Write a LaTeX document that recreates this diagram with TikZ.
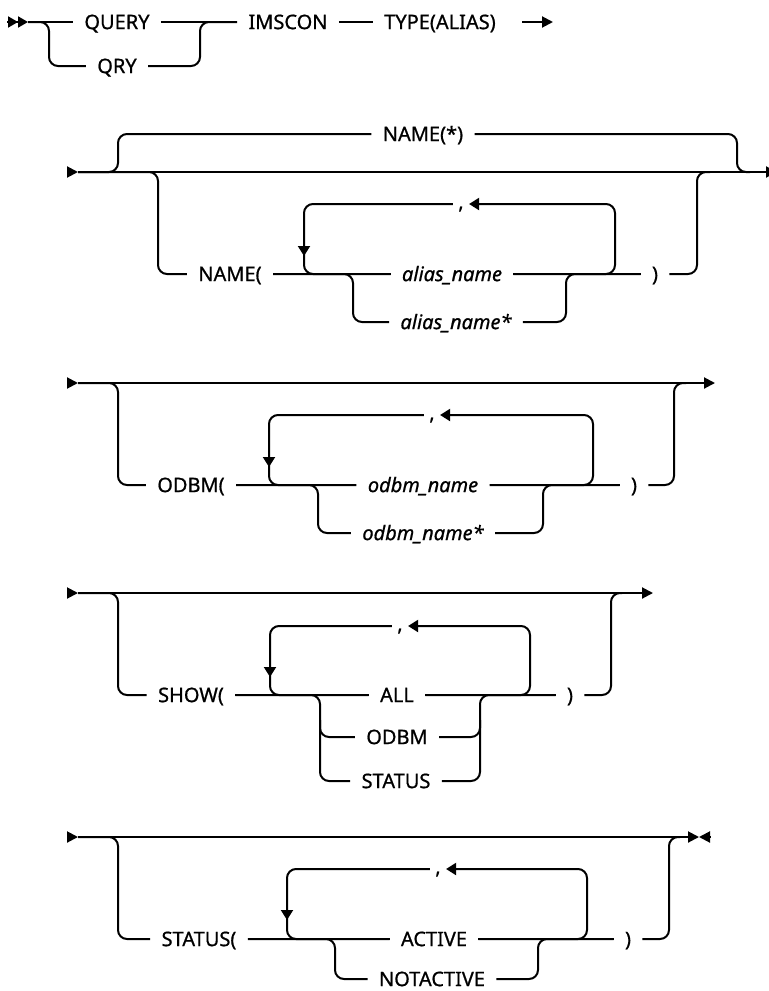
\documentclass[tikz,border=0pt]{standalone}
\usepackage{fontspec}
\setmainfont{Noto Sans}[FakeBold=0.8]
\usetikzlibrary{arrows.meta}
\tikzset{
  rail/.style={line width=1pt, rounded corners=4.5pt},
  kw/.style={inner xsep=5.5pt, inner ysep=0pt, text height=7.1pt, text depth=0pt,
             font=\fontsize{10}{12}\selectfont},
  var/.style={kw, font=\fontsize{10}{12}\selectfont\itshape},
  sepr/.style={kw, inner xsep=2.5pt, anchor=base},
  tri/.style={-{Triangle[length=5.5pt,width=5.5pt]}},
  loopin/.style={-{Triangle[length=5pt,width=6pt]}},
}

\begin{document}
\begin{tikzpicture}[x=0.5pt, y=-0.5pt]
  \useasboundingbox (0,0) rectangle (769,991);

  % QUERY | QRY  IMSCON  TYPE(ALIAS)
  \coordinate (s1) at (7,22);
  \draw[rail, -{Triangle[length=5pt,width=5.5pt]Triangle[length=5pt,width=5.5pt]}] (s1) -- ++(21,0) coordinate (a1);
  \node[kw] (query) at (117,22) {QUERY};
  \node[kw] (qry) at (117,66) {QRY};
  \node[kw] (imscon) at (288,22) {IMSCON};
  \node[kw] (type) at (440,22) {TYPE(ALIAS)};
  \draw[rail] (a1) -- (query.west);
  \draw[rail] (a1) -- (49,22) |- (qry.west);
  \draw[rail] (query.east) -- (imscon.west);
  \draw[rail] (qry.east) -| (200,22) -- (imscon.west);
  \draw[rail] (imscon.east) -- (type.west);
  \coordinate (c1) at (522,22);
  \draw[rail, tri] (c1) -- (553,22);

  % NAME
  \coordinate (s2) at (67,172);
  \draw[rail, tri] (s2) -- ++(11,0) coordinate (b2);
  \draw[rail, tri] (b2) -- (777,172);
  \node[kw] (namestar) at (423,134) {NAME(*)};
  \node[kw] (nameopen) at (230,274) {NAME(};
  \node[var] (alias) at (452,274) {alias\_name};
  \node[var] (aliasstar) at (456,322) {alias\_name*};
  \node[sepr] (comma2) at (461,209) {,};
  \node[kw] (close2) at (655,274) {)};
  \draw[rail] (b2) -- (118,172) |- (namestar.west);
  \draw[rail] (namestar.east) -| (737,172) -- (750,172);
  \draw[rail] (b2) -- (158,172) |- (nameopen.west);
  \draw[rail] (nameopen.east) -- (alias.west);
  \draw[rail, loopin] (alias.east) -- (615,274) -- (615,204) -- (comma2.east |- 0,204);
  \draw[rail, loopin] (comma2.west |- 0,204) -- (304,204) -- (304,256);
  \draw[rail] (304,250) -- (304,274) -- (alias.west);
  \draw[rail] (nameopen.east) -- (353,274) |- (aliasstar.west);
  \draw[rail] (aliasstar.east) -| (566,274) -- (close2.west);
  \draw[rail] (alias.east) -- (close2.west);
  \draw[rail] (close2.east) -| (697,172) -- (710,172);

  % ODBM
  \coordinate (s3) at (67,383);
  \draw[rail, tri] (s3) -- ++(11,0) coordinate (b3);
  \draw[rail, tri] (b3) -- (715,383);
  \node[kw] (odbmopen) at (191,485) {ODBM(};
  \node[var] (odbmname) at (423,485) {odbm\_name};
  \node[var] (odbmstar) at (423,533) {odbm\_name*};
  \node[sepr] (comma3) at (432,420) {,};
  \node[kw] (close3) at (634,485) {)};
  \draw[rail] (b3) -- (118,383) |- (odbmopen.west);
  \draw[rail] (odbmopen.east) -- (odbmname.west);
  \draw[rail, loopin] (odbmname.east) -- (593,485) -- (593,415) -- (comma3.east |- 0,415);
  \draw[rail, loopin] (comma3.west |- 0,415) -- (269,415) -- (269,467);
  \draw[rail] (269,461) -- (269,485) -- (odbmname.west);
  \draw[rail] (odbmopen.east) -- (318,485) |- (odbmstar.west);
  \draw[rail] (odbmstar.east) -| (543,485) -- (close3.west);
  \draw[rail] (odbmname.east) -- (close3.west);
  \draw[rail] (close3.east) -| (674,383) -- (686,383);

  % SHOW
  \coordinate (s4) at (67,593);
  \draw[rail, tri] (s4) -- ++(11,0) coordinate (b4);
  \draw[rail, tri] (b4) -- (653,593);
  \node[kw] (showopen) at (191,695) {SHOW(};
  \node[kw] (all) at (397,695) {ALL};
  \node[kw] (odbm) at (397,737) {ODBM};
  \node[kw] (status) at (396,781) {STATUS};
  \node[sepr] (comma4) at (400,631) {,};
  \node[kw] (close4) at (570,695) {)};
  \draw[rail] (b4) -- (118,593) |- (showopen.west);
  \draw[rail] (showopen.east) -- (all.west);
  \draw[rail, loopin] (all.east) -- (530,695) -- (530,626) -- (comma4.east |- 0,626);
  \draw[rail, loopin] (comma4.west |- 0,626) -- (270,626) -- (270,677);
  \draw[rail] (270,671) -- (270,695) -- (all.west);
  \draw[rail] (showopen.east) -- (320,695) |- (status.west);
  \draw[rail] (320,720) |- (odbm.west);
  \draw[rail] (status.east) -| (480,695) -- (close4.west);
  \draw[rail] (odbm.east) -| (480,720);
  \draw[rail] (all.east) -- (close4.west);
  \draw[rail] (close4.east) -| (611,593) -- (622,593);

  % STATUS
  \coordinate (s5) at (67,837);
  \draw[rail, tri] (s5) -- ++(11,0) coordinate (b5);
  \draw[rail, tri] (b5) -- (699,837);
  \coordinate (e5) at (710,837);
  \draw[rail, tri] (e5) -- (699,837);
  \node[kw] (statusopen) at (199,939) {STATUS(};
  \node[kw] (active) at (434,939) {ACTIVE};
  \node[kw] (notactive) at (432,979) {NOTACTIVE};
  \node[sepr] (comma5) at (438,874) {,};
  \node[kw] (close5) at (628,939) {)};
  \draw[rail] (b5) -- (118,837) |- (statusopen.west);
  \draw[rail] (statusopen.east) -- (active.west);
  \draw[rail, loopin] (active.east) -- (587,939) -- (587,869) -- (comma5.east |- 0,869);
  \draw[rail, loopin] (comma5.west |- 0,869) -- (287,869) -- (287,920);
  \draw[rail] (287,914) -- (287,939) -- (active.west);
  \draw[rail] (statusopen.east) -- (335,939) |- (notactive.west);
  \draw[rail] (notactive.east) -| (538,939) -- (close5.west);
  \draw[rail] (active.east) -- (close5.west);
  \draw[rail] (close5.east) -| (669,837) -- (680,837);
\end{tikzpicture}
\end{document}
